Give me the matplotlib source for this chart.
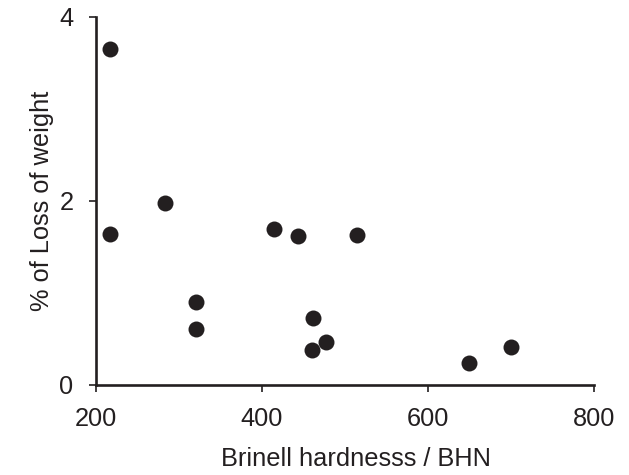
import matplotlib
matplotlib.use('Agg')
import matplotlib.pyplot as plt

# Brinell hardness (BHN) vs % loss of weight
hardness = [217, 217, 283, 321, 321, 415, 444, 514, 461, 460, 477, 649, 700]
weight_loss = [3.65, 1.64, 1.98, 0.90, 0.61, 1.69, 1.62, 1.63, 0.73, 0.38, 0.47, 0.24, 0.41]

x_ticks = [200, 400, 600, 800]
y_ticks = [0, 2, 4]

ink = '#231f20'
plt.rcParams['font.family'] = ['Liberation Sans', 'DejaVu Sans']

fig = plt.figure(figsize=(6.29, 4.75), dpi=100)
ax = fig.add_axes([0.152, 0.1895, 0.793, 0.7755])

ax.plot(hardness, weight_loss, 'o', color=ink, markersize=11.5,
        markeredgewidth=0, clip_on=False)

ax.set_xlim(200, 800)
ax.set_ylim(0, 4)
ax.set_xticks(x_ticks)
ax.set_yticks(y_ticks)

for side in ('top', 'right'):
    ax.spines[side].set_visible(False)
for side in ('left', 'bottom'):
    ax.spines[side].set_color(ink)
    ax.spines[side].set_linewidth(1.9)

ax.tick_params(direction='out', length=5, width=1.2, colors=ink,
               labelsize=18.3, pad=11)

ax.set_xlabel('Brinell hardnesss / BHN', fontsize=18.3, color=ink)
ax.xaxis.set_label_coords(0.522, -0.168)
ax.set_ylabel('% of Loss of weight', fontsize=18.3, color=ink, labelpad=4)

fig.savefig('out.png', dpi=100)
